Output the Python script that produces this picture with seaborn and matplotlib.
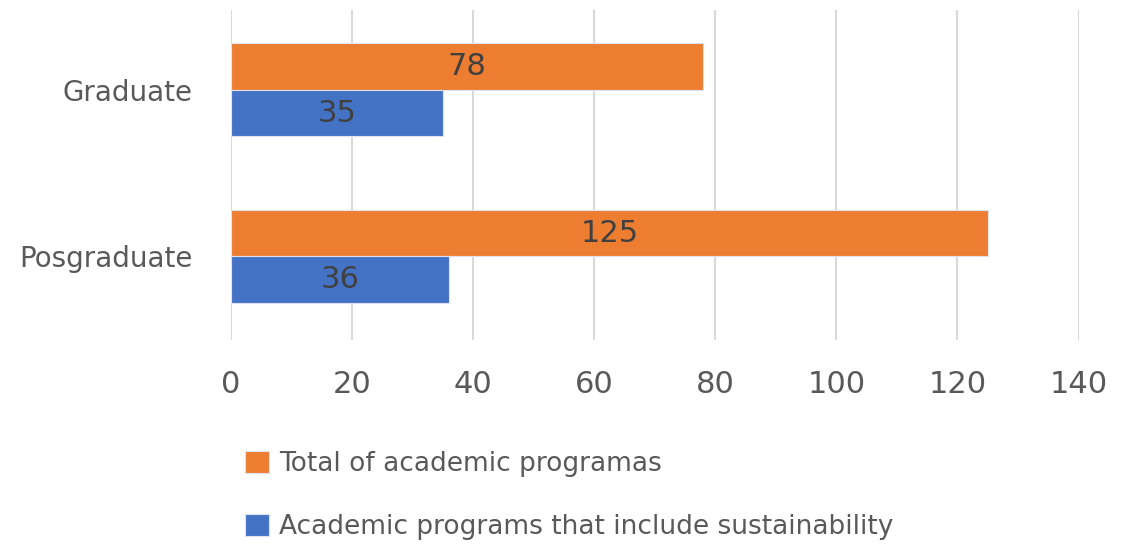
import matplotlib
matplotlib.use("Agg")
import matplotlib.pyplot as plt
import seaborn as sns
import pandas as pd

# data
categories = ["Graduate", "Posgraduate"]
series = ["Total of academic programas", "Academic programs that include sustainability"]
total_programs = [78, 125]
sustainability_programs = [35, 36]
x_ticks = [0, 20, 40, 60, 80, 100, 120, 140]

colors = ["#ED7D31", "#4472C4"]

df = pd.DataFrame({
    "category": categories * 2,
    "series": [series[0]] * 2 + [series[1]] * 2,
    "value": total_programs + sustainability_programs,
})

sns.set_style("white")
plt.rcParams["font.family"] = ["Liberation Sans Narrow", "DejaVu Sans"]

fig = plt.figure(figsize=(11.27, 5.48), dpi=100)
ax = fig.add_axes([0.205, 0.38, 0.752, 0.602])

sns.barplot(data=df, x="value", y="category", hue="series", order=categories,
            hue_order=series, palette=colors, saturation=1, width=0.56,
            orient="h", edgecolor="#DDE4F0", linewidth=0.8, ax=ax, legend=True)

for cont in ax.containers:
    ax.bar_label(cont, label_type="center", fontsize=22, color="#404040")

ax.set_xlim(0, 140)
ax.set_xticks(x_ticks)
ax.set_ylim(1.5, -0.48)
ax.set_xlabel("")
ax.set_ylabel("")
ax.xaxis.grid(True, color="#D9D9D9", linewidth=1.5)
ax.set_axisbelow(True)
for s in ax.spines.values():
    s.set_visible(False)
ax.tick_params(axis="x", labelsize=22, colors="#595959", length=0, pad=22)
ax.tick_params(axis="y", labelsize=20, colors="#595959", length=0, pad=28)

handles, labels = ax.get_legend_handles_labels()
ax.get_legend().remove()
fig.legend(handles, labels, loc="upper left", bbox_to_anchor=(0.208, 0.197),
           frameon=False, fontsize=19, labelcolor="#595959",
           handlelength=0.9, handleheight=0.9, handletextpad=0.4,
           labelspacing=1.4, borderaxespad=0)

fig.savefig("out.png", dpi=100)
